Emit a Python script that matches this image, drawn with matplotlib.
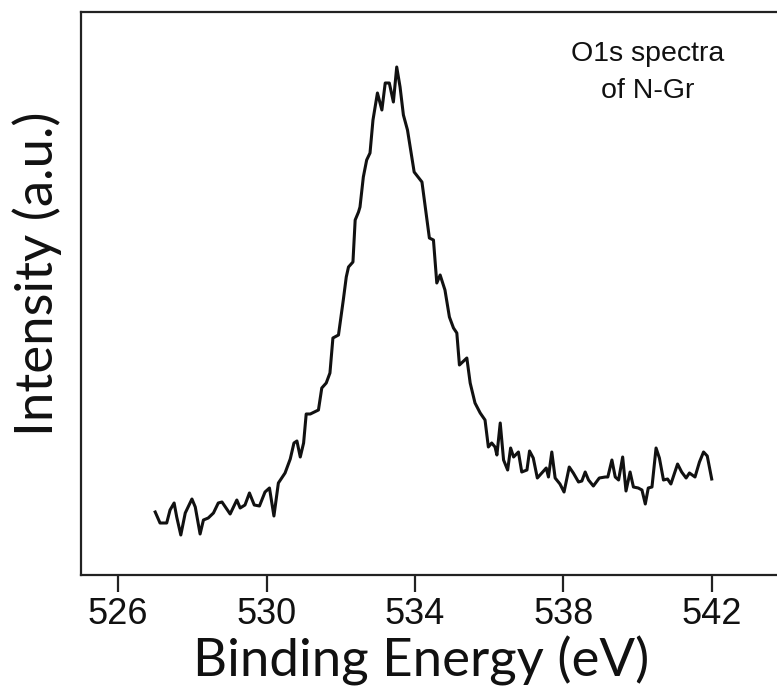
import matplotlib
matplotlib.use('Agg')
import matplotlib.pyplot as plt

# O1s XPS spectrum of N-Gr
energy = [527.00, 527.13, 527.31, 527.40, 527.51, 527.58, 527.69, 527.81, 527.99, 528.08,
          528.21, 528.30, 528.43, 528.57, 528.70, 528.80, 529.02, 529.20, 529.29, 529.42,
          529.54, 529.67, 529.81, 529.96, 530.08, 530.20, 530.32, 530.50, 530.64, 530.74,
          530.82, 530.91, 531.00, 531.07, 531.18, 531.40, 531.49, 531.61, 531.71, 531.79,
          531.94, 532.07, 532.15, 532.21, 532.33, 532.39, 532.48, 532.52, 532.61, 532.70,
          532.79, 532.87, 532.99, 533.11, 533.20, 533.31, 533.42, 533.51, 533.60, 533.69,
          533.80, 533.98, 534.19, 534.39, 534.50, 534.59, 534.68, 534.81, 534.93, 535.04,
          535.13, 535.20, 535.40, 535.49, 535.62, 535.76, 535.89, 535.98, 536.07, 536.16,
          536.21, 536.30, 536.39, 536.50, 536.58, 536.66, 536.79, 536.88, 537.02, 537.09,
          537.19, 537.30, 537.42, 537.54, 537.60, 537.69, 537.78, 537.91, 538.02, 538.16,
          538.27, 538.41, 538.50, 538.59, 538.68, 538.81, 538.97, 539.13, 539.20, 539.31,
          539.40, 539.49, 539.60, 539.69, 539.80, 539.89, 540.02, 540.12, 540.21, 540.29,
          540.39, 540.50, 540.59, 540.70, 540.81, 540.90, 541.08, 541.19, 541.31, 541.40,
          541.55, 541.67, 541.78, 541.88, 542.00]
intensity = [63, 52, 52, 65, 72, 58, 40, 62, 76, 68,
             41, 55, 57, 62, 72, 73, 61, 75, 67, 70,
             82, 70, 69, 83, 87, 59, 92, 102, 116, 132,
             134, 118, 132, 161, 161, 165, 187, 192, 202, 237,
             240, 275, 298, 308, 313, 355, 363, 368, 398, 415,
             422, 455, 482, 465, 492, 492, 473, 508, 488, 460,
             445, 403, 393, 337, 335, 292, 300, 285, 258, 247,
             242, 210, 217, 192, 172, 162, 155, 128, 132, 128,
             120, 152, 115, 105, 127, 118, 123, 103, 105, 124,
             117, 97, 102, 107, 98, 123, 97, 91, 83, 108,
             102, 93, 94, 103, 95, 89, 97, 98, 98, 115,
             98, 95, 118, 84, 103, 88, 87, 85, 71, 87,
             88, 127, 117, 95, 96, 91, 111, 103, 97, 102,
             98, 113, 123, 119, 96]
xticks = [526, 530, 534, 538, 542]

W, H = 777, 691
fig = plt.figure(figsize=(W / 100, H / 100), dpi=100)
ax = fig.add_axes([81 / W, (H - 575) / H, (W - 81) / W, (575 - 12) / H])

ax.plot(energy, intensity, color='#111111', lw=2.2)

ax.set_xlim(525.0, 543.76)
ax.set_ylim(0, 563)
ax.spines['right'].set_visible(False)
for s in ['left', 'top', 'bottom']:
    ax.spines[s].set_linewidth(1.6)
    ax.spines[s].set_color('#222222')
ax.set_yticks([])
ax.set_xticks(xticks)
ax.tick_params(axis='x', direction='out', length=12, width=1.6, pad=4, colors='#222222')
for lab in ax.get_xticklabels():
    lab.set_family(['Liberation Sans', 'DejaVu Sans'])
    lab.set_fontsize(26)
    lab.set_color('#111111')

lbl_font = ['Lato', 'DejaVu Sans']
fig.text(421 / W, 1 - 677 / H, 'Binding Energy (eV)', family=lbl_font, fontsize=38,
         ha='center', va='baseline', color='#111111')
fig.text(37 / W, 1 - 274 / H, 'Intensity (a.u.)', family=lbl_font, fontsize=38,
         ha='center', va='center', rotation=90, color='#111111')

note_font = ['Liberation Sans', 'DejaVu Sans']
fig.text(648 / W, 1 - 61 / H, 'O1s spectra', family=note_font, fontsize=20.5,
         ha='center', va='baseline', color='#111111')
fig.text(648 / W, 1 - 98 / H, 'of N-Gr', family=note_font, fontsize=20.5,
         ha='center', va='baseline', color='#111111')

fig.savefig('out.png', dpi=100)
